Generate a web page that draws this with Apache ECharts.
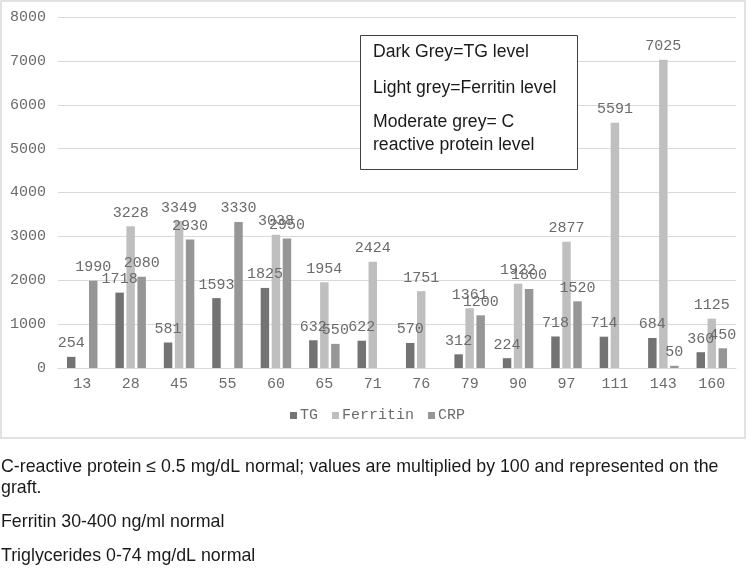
<!DOCTYPE html>
<html>
<head>
<meta charset="utf-8">
<script src="https://cdn.jsdelivr.net/npm/echarts@6/dist/echarts.min.js"></script>
<style>
  html, body { margin: 0; padding: 0; background: #fff; }
  #main { width: 755px; height: 568px; }
</style>
</head>
<body>
<div id="main"></div>
<script>
// patient ages on the x axis
var categories = ['13', '28', '45', '55', '60', '65', '71', '76', '79', '90', '97', '111', '143', '160'];
// values (null = no bar)
var tgValues = [254, 1718, 581, 1593, 1825, 632, 622, 570, 312, 224, 718, 714, 684, 360];
var ferritinValues = [null, 3228, 3349, null, 3038, 1954, 2424, 1751, 1361, 1922, 2877, 5591, 7025, 1125];
var crpValues = [1990, 2080, 2930, 3330, 2950, 550, null, null, 1200, 1800, 1520, null, 50, 450];
var yTicks = [0, 1000, 2000, 3000, 4000, 5000, 6000, 7000, 8000];

var boxLines = ['Dark Grey=TG level', 'Light grey=Ferritin level', 'Moderate grey= C', 'reactive protein level'];
var noteLines = [
  'C-reactive protein \u2264 0.5 mg/dL normal; values are multiplied by 100 and represented on the',
  'graft.',
  'Ferritin 30-400 ng/ml normal',
  'Triglycerides 0-74 mg/dL normal'
];

var mono = '"Liberation Mono", "DejaVu Sans Mono", monospace';
var sans = '"Liberation Sans", Arial, sans-serif';
var txtGrey = '#6b6b6b';

var chart = echarts.init(document.getElementById('main'), null, { renderer: 'canvas' });

function bar(name, data, color) {
  return {
    name: name,
    type: 'bar',
    data: data,
    barGap: '30%',
    barCategoryGap: '37%',
    itemStyle: { color: color },
    label: {
      show: true,
      position: 'top',
      distance: 6,
      color: txtGrey,
      fontFamily: mono,
      fontSize: 15
    }
  };
}

// outer frame, annotation box and notes under the chart
var graphics = [
  {
    type: 'rect',
    shape: { x: 1, y: 1, width: 744, height: 437 },
    style: { fill: 'none', stroke: '#d9d9d9', lineWidth: 1.5 },
    z: 0
  },
  {
    type: 'rect',
    shape: { x: 360.5, y: 35.5, width: 217, height: 134 },
    style: { fill: '#fff', stroke: '#404040', lineWidth: 1 },
    z: 50
  }
];
var boxY = [52, 88, 122, 145];
boxLines.forEach(function (t, i) {
  graphics.push({
    type: 'text', x: 373, y: boxY[i], z: 51,
    style: { text: t, font: '17.6px ' + sans, fill: '#1a1a1a', verticalAlign: 'middle' }
  });
});
var noteY = [467, 488, 522, 556];
noteLines.forEach(function (t, i) {
  graphics.push({
    type: 'text', x: 1, y: noteY[i], z: 51,
    style: { text: t, font: '17.8px ' + sans, fill: '#1a1a1a', verticalAlign: 'middle' }
  });
});

var option = {
  animation: false,
  grid: { left: 58, right: 19, top: 17, bottom: 200 },
  legend: {
    bottom: 140,
    left: 'center',
    itemWidth: 7,
    itemHeight: 7,
    itemGap: 14,
    icon: 'rect',
    textStyle: { color: txtGrey, fontFamily: mono, fontSize: 15, padding: [0, 0, 0, -2] },
    data: ['TG', 'Ferritin', 'CRP']
  },
  xAxis: {
    type: 'category',
    data: categories,
    axisLine: { lineStyle: { color: '#d9d9d9' } },
    axisTick: { show: false },
    axisLabel: { color: txtGrey, fontFamily: mono, fontSize: 15, margin: 9 }
  },
  yAxis: {
    type: 'value',
    min: yTicks[0],
    max: yTicks[yTicks.length - 1],
    interval: yTicks[1] - yTicks[0],
    axisLine: { show: false },
    axisTick: { show: false },
    splitLine: { lineStyle: { color: '#d9d9d9' } },
    axisLabel: {
      color: txtGrey, fontFamily: mono, fontSize: 15, margin: 12,
      formatter: function (v) { return String(v); }
    }
  },
  series: [
    bar('TG', tgValues, '#737373'),
    bar('Ferritin', ferritinValues, '#bfbfbf'),
    bar('CRP', crpValues, '#969696')
  ],
  graphic: graphics
};

chart.setOption(option);
</script>
</body>
</html>
